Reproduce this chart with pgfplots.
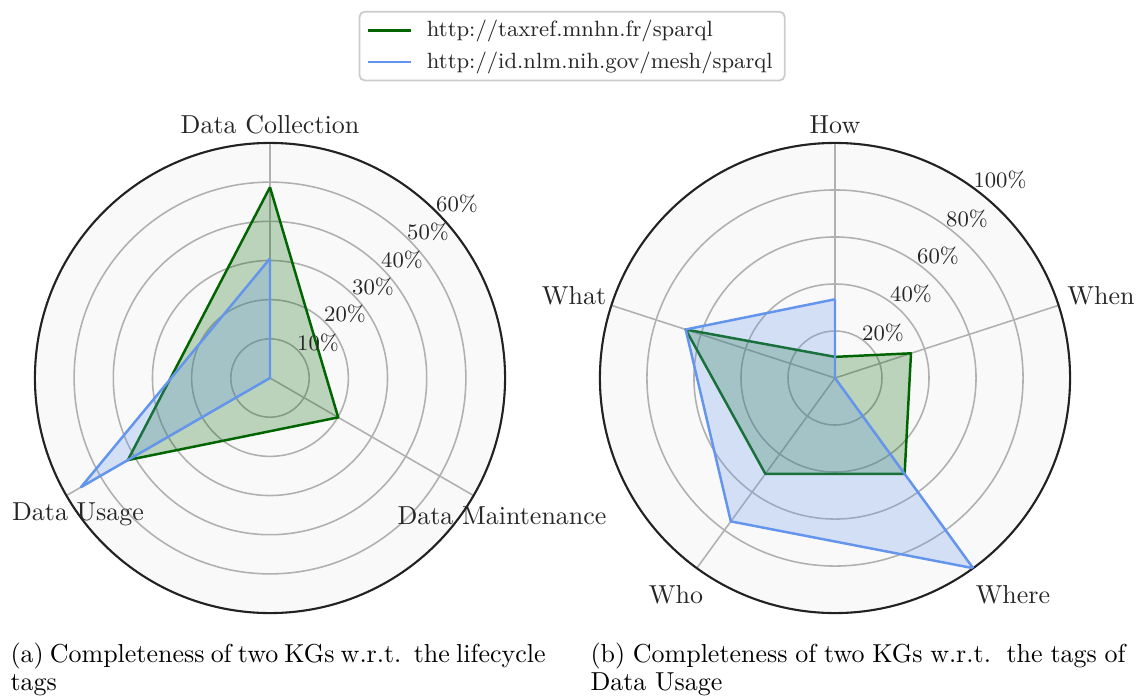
\documentclass[border=0pt]{standalone}
\usepackage{pgfplots}
\pgfplotsset{compat=1.18}
\usepgfplotslibrary{polar}
\definecolor{kgreen}{HTML}{006400}
\definecolor{kblue}{HTML}{6495ED}
\definecolor{bgc}{HTML}{F9F9F9}
\definecolor{gridc}{HTML}{B0B0B0}
\definecolor{framec}{HTML}{222222}
\definecolor{txt}{HTML}{262626}
\newcommand{\smallf}{\fontsize{8.5}{10.2}\selectfont}
\pgfplotsset{
  radar/.style={
    scale only axis, width=181pt, height=181pt,
    xmin=0, xmax=360, ymin=0,
    xticklabels={}, yticklabels={},
    xmajorgrids, ymajorgrids,
    major grid style={draw=gridc, line width=0.6pt},
    axis line style={draw=framec, line width=0.8pt},
    separate axis lines,
    y axis line style={draw=none},
    major tick length=0pt,
    axis background/.style={fill=bgc},
  },
  kg1/.style={draw=kgreen, line width=0.95pt, line join=round, fill=kgreen, fill opacity=0.25, draw opacity=1},
  kg2/.style={draw=kblue, line width=0.95pt, line join=round, fill=kblue, fill opacity=0.25, draw opacity=1},
}
\begin{document}
\begin{tikzpicture}
\path[use as bounding box] (0,0) rectangle (438.515pt,-267.96pt);

% ---------- (a) lifecycle tags ----------
\begin{polaraxis}[radar, at={(103.95pt,-145.53pt)}, anchor=center,
    ymax=60, ytick={10,20,30,40,50,60},
    xtick={90,210,330},
    legend style={at={(1.1426,1.281)}, anchor=north, draw=black!20, line width=0.7pt,
      rounded corners=2pt, fill=white, font=\smallf, text=txt,
      inner xsep=2.6pt, inner ysep=1.2pt, row sep=0.3pt, cells={anchor=west}},
    legend image code/.code={\draw[#1, fill=none, line width=1pt] (0pt,0pt) -- (16.6pt,0pt); \path (20.4pt,0pt);},
  ]
  \addplot[kg1] coordinates {(90,48.7) (330,20.1) (210,41.9) (90,48.7)};
  \addlegendentry{http://taxref.mnhn.fr/sparql}
  \addplot[kg2] coordinates {(90,30.5) (330,0) (210,55.7) (90,30.5)};
  \addlegendentry{http://id.nlm.nih.gov/mesh/sparql}
\end{polaraxis}

% ---------- (b) tags of Data Usage ----------
\begin{polaraxis}[radar, at={(321.475pt,-145.53pt)}, anchor=center,
    ymax=100, ytick={20,40,60,80,100},
    xtick={18,90,162,234,306},
  ]
  \addplot[kg1] coordinates {(90,9) (18,34) (306,50.4) (234,50.4) (162,66.8) (90,9)};
  \addplot[kg2] coordinates {(90,33.5) (18,0) (306,100) (234,75.4) (162,66.8) (90,33.5)};
\end{polaraxis}

\begin{scope}[x=0.385pt, y=-0.385pt]
% category labels
\begin{scope}[every node/.style={text=txt, inner sep=0pt, anchor=base}]
  \node at (270,133) {Data Collection};
  \node at (502,525) {Data Maintenance};
  \node at (78,521) {Data Usage};
  \node at (835,133) {How};
  \node at (1101,304) {When};
  \node at (574,304) {What};
  \node at (1013,604) {Where};
  \node at (676,604) {Who};
\end{scope}

% radial labels
\begin{scope}[every node/.style={text=txt, inner sep=0pt, font=\smallf}]
  \node at (318,343) {10\%};
  \node at (345,314) {20\%};
  \node at (373,287) {30\%};
  \node at (402,260) {40\%};
  \node at (428,232) {50\%};
  \node at (457,204) {60\%};
  \node at (883,333) {20\%};
  \node at (911,294) {40\%};
  \node at (938,256) {60\%};
  \node at (967,219) {80\%};
  \node at (1000,180) {100\%};
\end{scope}

% captions
\begin{scope}[every node/.style={inner sep=0pt, anchor=north west, text width=206pt, align=justify,
    font=\fontsize{10}{10.6}\selectfont}]
  \node at (10,642.5) {\hyphenpenalty=10000 (a) Completeness of two KGs w.r.t.\ \ the lifecycle tags};
  \node at (590,642.5) {\hyphenpenalty=10000 (b) Completeness of two KGs w.r.t.\ \ the tags of Data Usage};
\end{scope}
\end{scope}
\end{tikzpicture}
\end{document}
